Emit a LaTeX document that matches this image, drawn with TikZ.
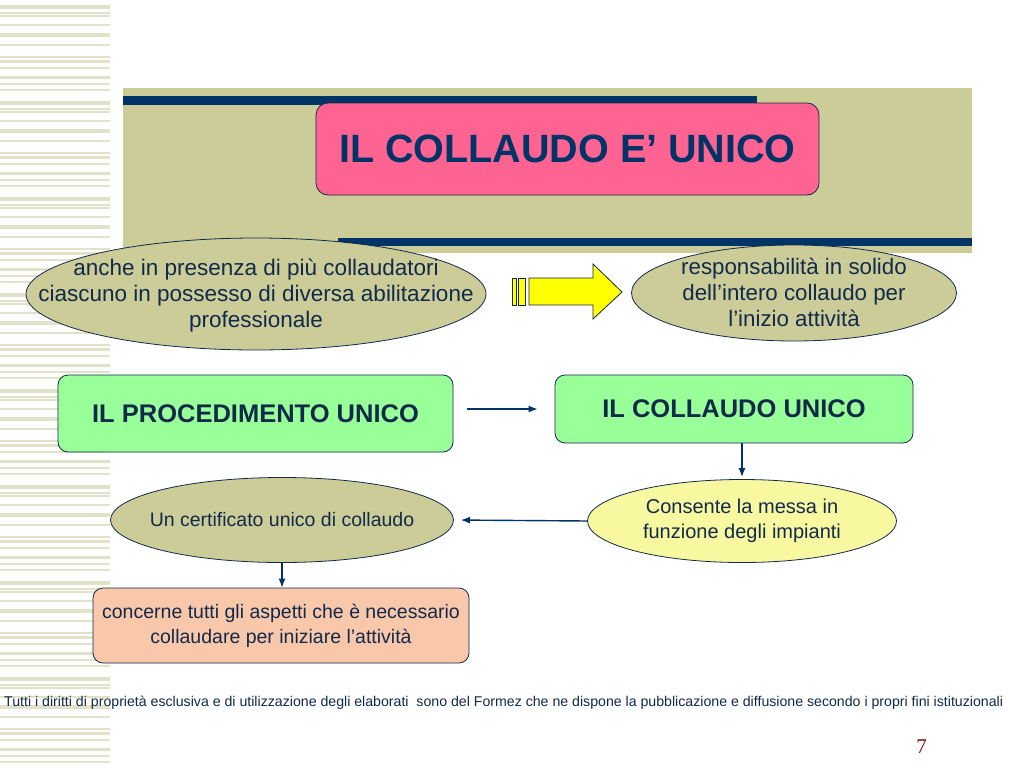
\documentclass[tikz,border=0pt]{standalone}
\usepackage{fontspec}
\setmainfont{Liberation Sans}
\newfontfamily\numfont{Liberation Serif}
\usepackage{xcolor}
\usepackage{tikz}
\usetikzlibrary{arrows,arrows.meta,calc,positioning,shapes}
\definecolor{navy}{RGB}{0,51,102}
\definecolor{inknavy}{RGB}{18,42,74}
\definecolor{khaki}{RGB}{204,204,153}
\definecolor{stripe}{RGB}{226,226,202}
\definecolor{titlepink}{RGB}{255,99,146}
\definecolor{boxgreen}{RGB}{153,255,153}
\definecolor{paleyellow}{RGB}{248,248,160}
\definecolor{peach}{RGB}{249,199,170}
\definecolor{arrowyellow}{RGB}{255,255,0}
\definecolor{numred}{RGB}{122,24,24}
\tikzset{
	oval/.style={ellipse,draw=inknavy,line width=0.8pt,fill=khaki,inner sep=0pt},
	ovaltext/.style={text=inknavy,align=center,inner sep=0pt},
	greenbox/.style={rectangle,rounded corners=10pt,draw=inknavy,line width=0.8pt,fill=boxgreen,text=inknavy,font=\fontsize{25.5}{30}\selectfont\bfseries,inner sep=0pt},
	link/.style={-{Latex[length=9pt,width=7pt]},draw=navy,line width=1.4pt},
}
\begin{document}
\begin{tikzpicture}[x=1pt,y=-1pt]
		\useasboundingbox[fill=white] (0,0) rectangle (1024,768);
		\foreach \k in {0,...,7}{
			\foreach \y/\w in {7/4,13/1.5,16/1.5,25/1.5,35/4,45/1.5,57/1.5,61/3,68/1.5,77/3,84/1.5,90/1.5}{
				\fill[stripe] (0,{\y+96*\k-\w/2}) rectangle (110,{\y+96*\k+\w/2});
			}
		}
		\fill[khaki] (123,88) rectangle (972,253);
		\fill[navy] (123,96) rectangle (757,105);
		\fill[navy] (338,238) rectangle (972,246);
		\node[rectangle,rounded corners=12pt,draw=inknavy,line width=0.8pt,fill=titlepink,text=navy,font=\fontsize{39.5}{44}\selectfont\bfseries,minimum width=503pt,minimum height=92pt] (titolo) at (567.5,149) {IL COLLAUDO E’ UNICO};
		\node[oval,minimum width=460pt,minimum height=112pt] (presenza) at (256,294) {};
		\node[ovaltext,font=\fontsize{22.5}{26}\selectfont] (presenzatxt) at (256,296) {anche in presenza di più collaudatori\\ciascuno in possesso di diversa abilitazione\\professionale};
		\node[oval,minimum width=325pt,minimum height=96pt] (solido) at (794,293) {};
		\node[ovaltext,font=\fontsize{22.3}{26}\selectfont] (solidotxt) at (794,292) {responsabilità in solido\\dell’intero collaudo per\\l’inizio attività};
		\filldraw[fill=arrowyellow,draw=inknavy,line width=0.8pt] (512,278) rectangle (516,305);
		\filldraw[fill=arrowyellow,draw=inknavy,line width=0.8pt] (518,278) rectangle (525,305);
		\filldraw[fill=arrowyellow,draw=inknavy,line width=0.8pt] (529,278) -- (593,278) -- (593,264) -- (622,292) -- (593,319) -- (593,305) -- (529,305) -- cycle;
		\node[greenbox,minimum width=395pt,minimum height=77pt] (procedimento) at (255.5,413.5) {IL PROCEDIMENTO UNICO};
		\node[greenbox,minimum width=358pt,minimum height=68pt] (collaudo) at (734,409) {IL COLLAUDO UNICO};
		\node[oval,fill=paleyellow,minimum width=309pt,minimum height=83pt] (consente) at (742,521) {};
		\node[ovaltext,font=\fontsize{20}{25}\selectfont] (consentetxt) at (742,521) {Consente la messa in\\funzione degli impianti};
		\node[oval,minimum width=343pt,minimum height=85pt] (certificato) at (282,520) {};
		\node[ovaltext,font=\fontsize{19.5}{24}\selectfont] (certificatotxt) at (282,520) {Un certificato unico di collaudo};
		\node[rectangle,rounded corners=10pt,draw=inknavy,line width=0.8pt,fill=peach,text=inknavy,align=center,font=\fontsize{19.5}{25}\selectfont,minimum width=376pt,minimum height=75pt] (concerne) at (281,625.5) {concerne tutti gli aspetti che è necessario\\collaudare per iniziare l’attività};
		\draw[link,shorten <=14pt,shorten >=17pt] (procedimento.east |- collaudo.west) -- (collaudo.west);
		\draw[link,shorten >=2pt] (collaudo.south -| consente.north) -- (consente.north);
		\draw[link,shorten >=7pt] (consente.west) -- (certificato.east);
		\draw[link] (certificato.south) -- (certificato.south |- concerne.north);
		\node[anchor=west,inner sep=0pt,text=inknavy,font=\fontsize{14.15}{16}\selectfont] (diritti) at (4,703) {Tutti i diritti di proprietà esclusiva e di utilizzazione degli elaborati\ \ sono del Formez che ne dispone la pubblicazione e diffusione secondo i propri fini istituzionali};
		\node[text=numred,font=\numfont\fontsize{21}{24}\selectfont] (pagina) at (921.5,747) {7};
		\end{tikzpicture}
\end{document}
